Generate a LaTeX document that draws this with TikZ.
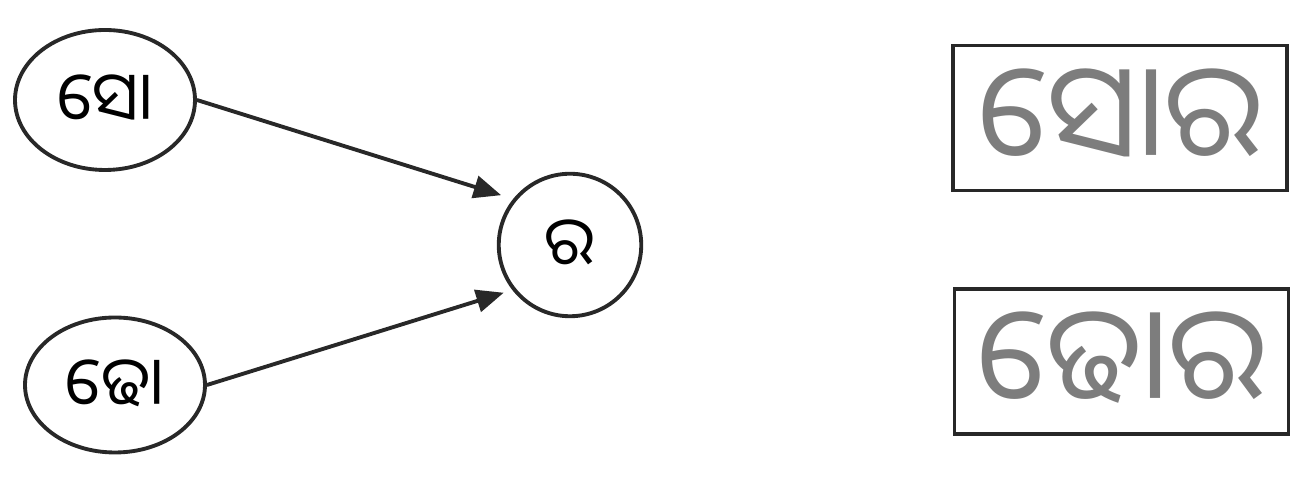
\documentclass[tikz,border=0pt]{standalone}
\usepackage{fontspec}
\usepackage{tikz}
\usetikzlibrary{calc,positioning,arrows.meta,shapes.geometric}
\newfontfamily\odia[Script=Oriya]{Noto Sans Oriya UI}
\definecolor{pencil}{RGB}{125,125,125}
\definecolor{ink}{RGB}{40,40,40}
\tikzset{
  syl/.style={draw=ink, line width=2.2pt, ellipse, inner sep=0pt, font=\odia\fontsize{38}{38}\selectfont},
  wordbox/.style={draw=ink, line width=2.2pt, rectangle, minimum width=6.68cm, minimum height=2.9cm, inner sep=0pt, text=pencil, font=\odia\fontsize{74}{74}\selectfont},
  link/.style={draw=ink, line width=2.2pt, -{Triangle[length=0.55cm,width=0.45cm]}}
}
\begin{document}
\begin{tikzpicture}
  \useasboundingbox (0,0) rectangle (26,9.62);
  % syllables
  \node[syl, minimum width=3.6cm, minimum height=2.8cm] (so) at (2.1,7.62) {ସୋ};
  \node[syl, minimum width=3.6cm, minimum height=2.7cm] (dho) at (2.3,1.92) {ଢୋ};
  \node[syl, circle, minimum size=2.85cm] (ra) at (11.4,4.72) {ର};

  \draw[link, shorten >=0.25cm] (so.east) -- (ra.141);
  \draw[link, shorten >=0.18cm] (dho.east) -- (ra.218);

  % words
  \node[wordbox] (sora) at (22.4,7.26) {ସୋର};
  \node[wordbox] (dhora) at (22.43,2.39) {ଢୋର};
\end{tikzpicture}
\end{document}
